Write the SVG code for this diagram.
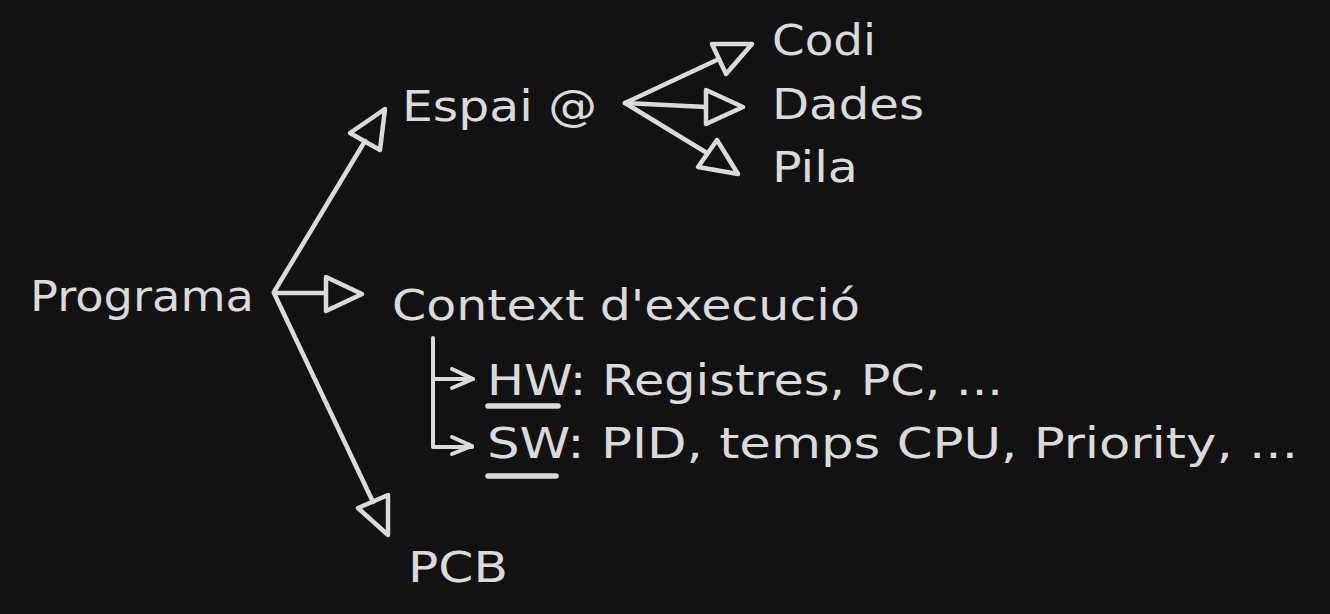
<svg xmlns="http://www.w3.org/2000/svg" width="1330" height="614" viewBox="0 0 1330 614">
<style>
.t{font-family:"DejaVu Sans","Liberation Sans",sans-serif;font-size:42px;fill:#dadada}
.l{fill:none;stroke:#dadada;stroke-width:4.5;stroke-linecap:round;stroke-linejoin:round}
.s{fill:none;stroke:#dadada;stroke-width:4;stroke-linecap:round;stroke-linejoin:round}
.u{stroke:#dadada;stroke-width:5.5;stroke-linecap:round}
</style>
<rect width="1330" height="614" fill="#121212"/>
<g id="connectors">
<path class="l" d="M274 292 L365 141"/>
<path class="l" d="M385 109 L350 133 L380 150 Z"/>
<path class="l" d="M274 293 L326 293"/>
<path class="l" d="M326 277 L362 294 L326 311 Z"/>
<path class="l" d="M274 293 L373 502"/>
<path class="l" d="M388 535 L358 508 L388 495 Z"/>
<path class="l" d="M625 103 L719 59"/>
<path class="l" d="M752 44 L712 44 L726 74 Z"/>
<path class="l" d="M625 103 L706 107"/>
<path class="l" d="M706 90 L743 107 L706 124 Z"/>
<path class="l" d="M625 103 L707 153"/>
<path class="l" d="M738 174 L717 140 L698 167 Z"/>
<path class="s" d="M433 338 L433 447 L472 447"/>
<path class="s" d="M433 379 L473 379"/>
<path class="s" d="M452 369 L473 379 L452 388"/>
<path class="s" d="M452 437 L472 446 L452 454"/>
</g>
<g id="node-programa"><text class="t" x="30" y="311" textLength="224" lengthAdjust="spacingAndGlyphs">Programa</text></g>
<g id="node-espai"><text class="t" x="402" y="121" textLength="195" lengthAdjust="spacingAndGlyphs">Espai @</text></g>
<g id="node-codi"><text class="t" x="772" y="55" textLength="104" lengthAdjust="spacingAndGlyphs">Codi</text></g>
<g id="node-dades"><text class="t" x="772" y="119" textLength="152" lengthAdjust="spacingAndGlyphs">Dades</text></g>
<g id="node-pila"><text class="t" x="772" y="182" textLength="86" lengthAdjust="spacingAndGlyphs">Pila</text></g>
<g id="node-context"><text class="t" x="392" y="320" textLength="468" lengthAdjust="spacingAndGlyphs">Context d'execució</text></g>
<g id="node-hw"><text class="t" x="487" y="395" textLength="516" lengthAdjust="spacingAndGlyphs">HW: Registres, PC, ...</text><line class="u" x1="488" y1="406" x2="558" y2="406"/></g>
<g id="node-sw"><text class="t" x="487" y="458" textLength="811" lengthAdjust="spacingAndGlyphs">SW: PID, temps CPU, Priority, ...</text><line class="u" x1="488" y1="476" x2="556" y2="476"/></g>
<g id="node-pcb"><text class="t" x="408" y="582" textLength="100" lengthAdjust="spacingAndGlyphs">PCB</text></g>
</svg>
